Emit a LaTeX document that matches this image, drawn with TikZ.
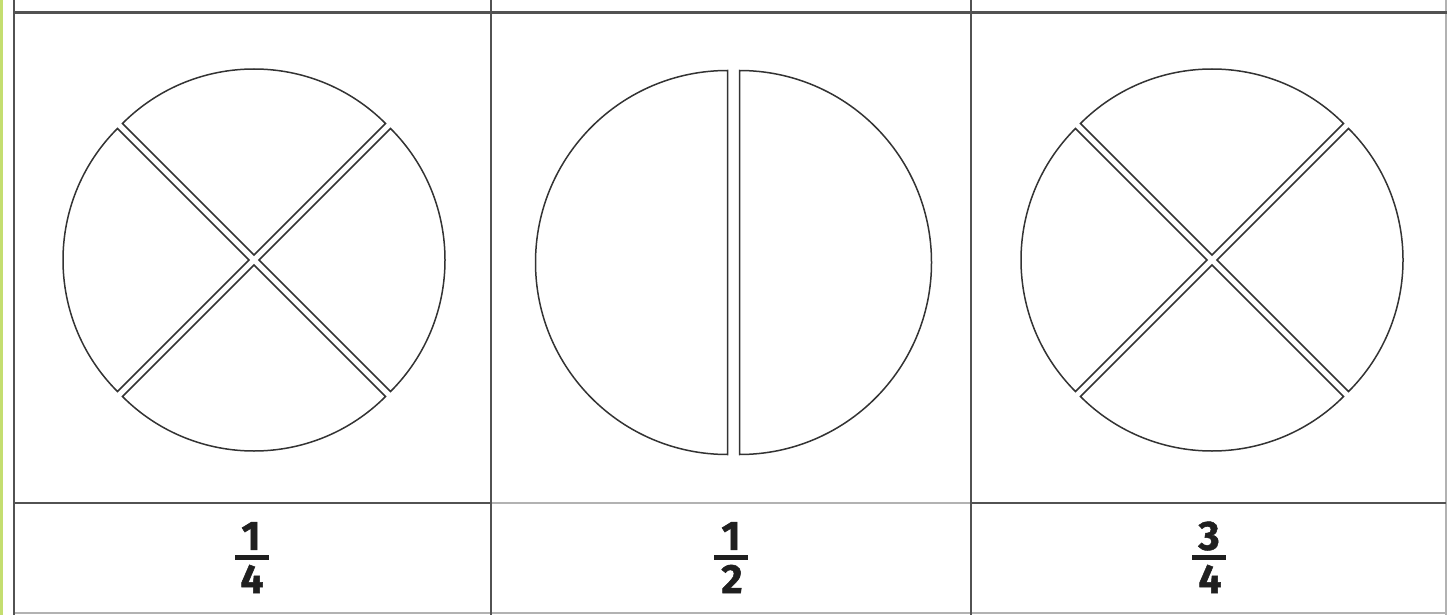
\documentclass[tikz,border=0pt]{standalone}
\usepackage{fontspec}
\setsansfont{Fira Sans}
\newfontfamily\digitfont[BoldFeatures={FakeBold=1.2}]{Fira Sans}
\definecolor{strip}{RGB}{196,222,112}
\begin{document}
\begin{tikzpicture}[x=1pt,y=-1pt,
  grid/.style={draw=black!68, line width=2.2pt},
  lightgrid/.style={draw=black!30, line width=2pt},
  piece/.style={draw=black!80, line width=1.5pt, line join=miter},
  digit/.style={inner sep=0pt, text=black!88, font=\digitfont\bfseries\fontsize{41}{41}\selectfont},
  fbar/.style={fill=black!88}]
\useasboundingbox (0,0) rectangle (1447,615);
\fill[white] (0,0) rectangle (1447,615);
% green strip
\fill[strip] (0,0) rectangle (2.5,615);
% grid
\draw[lightgrid] (14,613) -- (1446,613);
\draw[lightgrid] (1446,0) -- (1446,615);
\draw[grid] (13,12.5) -- (1447,12.5);
\draw[grid] (14,503) -- (491,503);
\draw[lightgrid] (491,503) -- (971,503);
\draw[grid] (971,503) -- (1446,503);
\draw[grid] (14,0) -- (14,615);
\draw[grid] (491,0) -- (491,615);
\draw[grid] (971,0) -- (971,615);
% quarters (left and right circles)
\foreach \cx in {254,1212}{
  \foreach \a in {-90,0,90,180}{
    \path[piece] (\cx,260) ++(\a:5) -- ++(\a-45:186) arc[start angle=\a-45, end angle=\a+45, radius=186] -- cycle;
  }
}
% middle: halves
\path[piece] (727.5,262.5) -- ++(90:192) arc[start angle=90, end angle=270, radius=192] -- cycle;
\path[piece] (739.5,262.5) -- ++(-90:192) arc[start angle=-90, end angle=90, radius=192] -- cycle;
% fractions
\node[digit] (n1) at (251,536) {1};
\fill[fbar] (235,555) rectangle (269,560);
\node[digit] (d1) at (252,579) {4};
\node[digit] (n2) at (731,536) {1};
\fill[fbar] (714,555) rectangle (748,560);
\node[digit] (d2) at (732,579) {2};
\node[digit] (n3) at (1209,536) {3};
\fill[fbar] (1192,555) rectangle (1226,560);
\node[digit] (d3) at (1210,579) {4};
\end{tikzpicture}
\end{document}
